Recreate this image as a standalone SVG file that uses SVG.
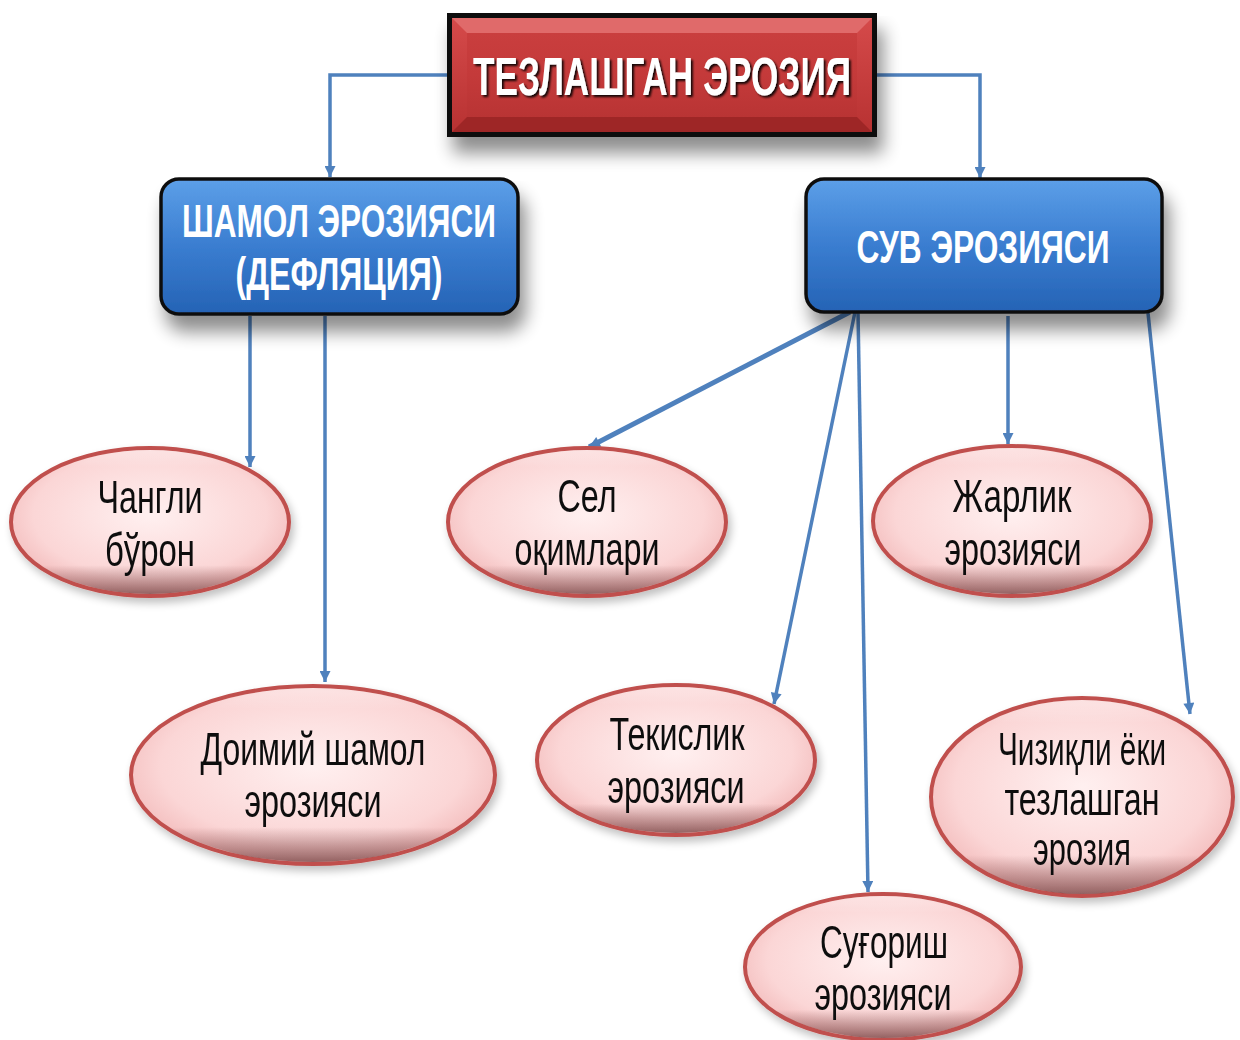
<svg xmlns="http://www.w3.org/2000/svg" width="1240" height="1040" viewBox="0 0 1240 1040">
<defs>
<style>
.conn{fill:none;stroke:#4f81bd;stroke-width:3.5}
.thick{stroke-width:5}
.blue{fill:url(#gBlue);stroke:#111;stroke-width:3.5}
.ell{fill:url(#gPink);stroke:#c0504d;stroke-width:4}
.bev{fill:url(#gBev);stroke:none}
.lbl{font-family:"Liberation Sans Narrow","Liberation Sans",Arial,sans-serif;font-size:46px;fill:#111;text-anchor:middle}
.hd{font-family:"Liberation Sans Narrow","Liberation Sans",Arial,sans-serif;font-weight:bold;fill:#fff;text-anchor:middle}
</style>
<linearGradient id="gBlue" x1="0" y1="0" x2="0" y2="1">
<stop offset="0" stop-color="#5c9fe8"/>
<stop offset="0.5" stop-color="#3a7dd0"/>
<stop offset="1" stop-color="#2563b5"/>
</linearGradient>
<radialGradient id="gPink" cx="0.5" cy="0.45" r="0.6">
<stop offset="0" stop-color="#fff0f0"/>
<stop offset="0.7" stop-color="#fbd6d6"/>
<stop offset="1" stop-color="#f0b4b4"/>
</radialGradient>
<linearGradient id="gBev" x1="0" y1="0" x2="0" y2="1">
<stop offset="0" stop-color="#ffffff" stop-opacity="0.35"/>
<stop offset="0.12" stop-color="#ffffff" stop-opacity="0"/>
<stop offset="0.8" stop-color="#7a4040" stop-opacity="0"/>
<stop offset="0.92" stop-color="#7a4646" stop-opacity="0.45"/>
<stop offset="1" stop-color="#6a3a3a" stop-opacity="0.7"/>
</linearGradient>
<linearGradient id="gRed" x1="0" y1="0" x2="0" y2="1">
<stop offset="0" stop-color="#d54a4a"/>
<stop offset="1" stop-color="#b83232"/>
</linearGradient>
<linearGradient id="gRedIn" x1="0" y1="0" x2="0" y2="1">
<stop offset="0" stop-color="#c93e3e"/>
<stop offset="0.5" stop-color="#c43a3a"/>
<stop offset="1" stop-color="#b93434"/>
</linearGradient>
<filter id="shBox" x="-10%" y="-10%" width="120%" height="140%">
<feGaussianBlur in="SourceAlpha" stdDeviation="9"/>
<feOffset dx="6" dy="16" result="b"/>
<feComponentTransfer><feFuncA type="linear" slope="0.45"/></feComponentTransfer>
<feMerge><feMergeNode/><feMergeNode in="SourceGraphic"/></feMerge>
</filter>
<filter id="shEll" x="-10%" y="-10%" width="120%" height="130%">
<feGaussianBlur in="SourceAlpha" stdDeviation="4"/>
<feOffset dx="3" dy="5"/>
<feComponentTransfer><feFuncA type="linear" slope="0.25"/></feComponentTransfer>
<feMerge><feMergeNode/><feMergeNode in="SourceGraphic"/></feMerge>
</filter>
<filter id="shTxt" x="-5%" y="-20%" width="110%" height="150%">
<feGaussianBlur in="SourceAlpha" stdDeviation="1.2"/>
<feOffset dx="2" dy="2"/>
<feComponentTransfer><feFuncA type="linear" slope="0.9"/></feComponentTransfer>
<feMerge><feMergeNode/><feMergeNode in="SourceGraphic"/></feMerge>
</filter>
<marker id="arr" viewBox="0 0 10 10" refX="10" refY="5" markerWidth="14" markerHeight="11" markerUnits="userSpaceOnUse" orient="auto">
<path d="M0,0 L10,5 L0,10 z" fill="#4f81bd"/>
</marker>
</defs>
<rect width="1240" height="1040" fill="#fff"/>

<g id="connectors">
<path class="conn" d="M447,75 H330 V177" marker-end="url(#arr)"/>
<path class="conn" d="M877,75 H980 V178" marker-end="url(#arr)"/>
<path class="conn" d="M250,316 V467" marker-end="url(#arr)"/>
<path class="conn" d="M325,316 V682" marker-end="url(#arr)"/>
<path class="conn thick" d="M850,312 L589,447" marker-end="url(#arr)"/>
<path class="conn" d="M855,312 L774,704" marker-end="url(#arr)"/>
<path class="conn" d="M858,312 L868,892" marker-end="url(#arr)"/>
<path class="conn" d="M1008,316 V444" marker-end="url(#arr)"/>
<path class="conn" d="M1148,313 L1190,714" marker-end="url(#arr)"/>
</g>

<g id="title">
<rect x="447" y="13" width="430" height="124" fill="#111" filter="url(#shBox)"/>
<rect x="452" y="18" width="420" height="114" fill="url(#gRed)"/>
<path d="M452,18 H872 L857,33 H467 z" fill="#e06a6a"/>
<path d="M452,132 H872 L857,117 H467 z" fill="#9e2626"/>
<rect x="467" y="33" width="390" height="84" fill="url(#gRedIn)"/>
<text class="hd" x="662" y="95" font-size="54" textLength="378" lengthAdjust="spacingAndGlyphs" filter="url(#shTxt)">ТЕЗЛАШГАН ЭРОЗИЯ</text>
</g>

<g id="wind">
<rect class="blue" x="161" y="179" width="357" height="135" rx="18" filter="url(#shBox)"/>
<text class="hd" x="339" y="237" font-size="46" textLength="314" lengthAdjust="spacingAndGlyphs">ШАМОЛ ЭРОЗИЯСИ</text>
<text class="hd" x="339" y="290" font-size="46" textLength="207" lengthAdjust="spacingAndGlyphs">(ДЕФЛЯЦИЯ)</text>
</g>

<g id="water">
<rect class="blue" x="806" y="179" width="356" height="133" rx="18" filter="url(#shBox)"/>
<text class="hd" x="983" y="263" font-size="46" textLength="253" lengthAdjust="spacingAndGlyphs">СУВ ЭРОЗИЯСИ</text>
</g>

<g id="n-changli" filter="url(#shEll)">
<ellipse class="ell" cx="150" cy="522" rx="139" ry="74"/>
<ellipse class="bev" cx="150" cy="522" rx="137" ry="72"/>
<text class="lbl" x="150" y="513" textLength="105" lengthAdjust="spacingAndGlyphs">Чангли</text>
<text class="lbl" x="150" y="566" textLength="90" lengthAdjust="spacingAndGlyphs">бўрон</text>
</g>

<g id="n-doimiy" filter="url(#shEll)">
<ellipse class="ell" cx="313" cy="775" rx="182" ry="89"/>
<ellipse class="bev" cx="313" cy="775" rx="180" ry="87"/>
<text class="lbl" x="313" y="765" textLength="225" lengthAdjust="spacingAndGlyphs">Доимий шамол</text>
<text class="lbl" x="313" y="817" textLength="137" lengthAdjust="spacingAndGlyphs">эрозияси</text>
</g>

<g id="n-sel" filter="url(#shEll)">
<ellipse class="ell" cx="587" cy="522" rx="139" ry="74"/>
<ellipse class="bev" cx="587" cy="522" rx="137" ry="72"/>
<text class="lbl" x="587" y="512" textLength="59" lengthAdjust="spacingAndGlyphs">Сел</text>
<text class="lbl" x="587" y="565" textLength="145" lengthAdjust="spacingAndGlyphs">оқимлари</text>
</g>

<g id="n-jarlik" filter="url(#shEll)">
<ellipse class="ell" cx="1012" cy="521" rx="139" ry="75"/>
<ellipse class="bev" cx="1012" cy="521" rx="137" ry="73"/>
<text class="lbl" x="1012" y="512" textLength="119" lengthAdjust="spacingAndGlyphs">Жарлик</text>
<text class="lbl" x="1013" y="565" textLength="137" lengthAdjust="spacingAndGlyphs">эрозияси</text>
</g>

<g id="n-tekislik" filter="url(#shEll)">
<ellipse class="ell" cx="676" cy="760" rx="139" ry="75"/>
<ellipse class="bev" cx="676" cy="760" rx="137" ry="73"/>
<text class="lbl" x="677" y="750" textLength="135" lengthAdjust="spacingAndGlyphs">Текислик</text>
<text class="lbl" x="676" y="803" textLength="137" lengthAdjust="spacingAndGlyphs">эрозияси</text>
</g>

<g id="n-chiziqli" filter="url(#shEll)">
<ellipse class="ell" cx="1082" cy="797" rx="151" ry="99"/>
<ellipse class="bev" cx="1082" cy="797" rx="149" ry="97"/>
<text class="lbl" x="1082" y="765" font-size="44" textLength="168" lengthAdjust="spacingAndGlyphs">Чизиқли ёки</text>
<text class="lbl" x="1082" y="815" textLength="155" lengthAdjust="spacingAndGlyphs">тезлашган</text>
<text class="lbl" x="1082" y="865" textLength="98" lengthAdjust="spacingAndGlyphs">эрозия</text>
</g>

<g id="n-sugorish" filter="url(#shEll)">
<ellipse class="ell" cx="883" cy="967" rx="138" ry="73"/>
<ellipse class="bev" cx="883" cy="967" rx="136" ry="71"/>
<text class="lbl" x="884" y="958" textLength="128" lengthAdjust="spacingAndGlyphs">Суғориш</text>
<text class="lbl" x="883" y="1010" textLength="137" lengthAdjust="spacingAndGlyphs">эрозияси</text>
</g>
</svg>
